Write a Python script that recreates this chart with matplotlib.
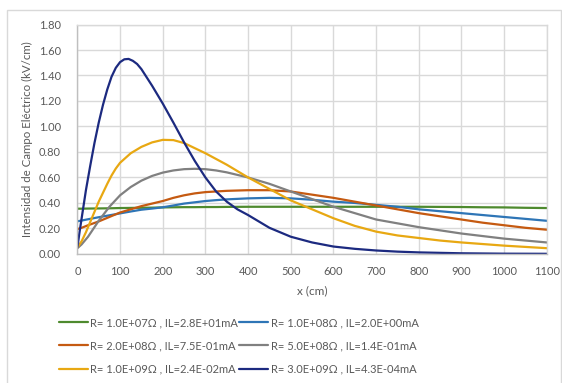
import matplotlib.pyplot as plt
from matplotlib.patches import Rectangle

plt.rcParams['font.family'] = ['Lato', 'DejaVu Sans']

# posiciones (cm) y campo (kV/cm)
x_navy = [0, 5, 10, 20, 30, 40, 50, 60, 70, 80, 90, 100, 110, 120, 130, 140, 150, 175, 200, 225, 250, 275, 300,
          325, 350, 375, 400, 450, 500, 550, 600, 650, 700, 750, 800, 900, 1000, 1100]
e_navy = [0.05, 0.17, 0.28, 0.50, 0.69, 0.87, 1.03, 1.17, 1.29, 1.39, 1.46, 1.505, 1.527, 1.53, 1.515, 1.49, 1.45,
          1.32, 1.18, 1.03, 0.875, 0.73, 0.60, 0.49, 0.41, 0.35, 0.305, 0.205, 0.135, 0.09, 0.058, 0.04, 0.027,
          0.018, 0.012, 0.005, 0.002, 0.001]

x_yellow = [0, 10, 20, 30, 40, 50, 60, 70, 80, 90, 100, 125, 150, 175, 200, 225, 250, 275, 300, 350, 400, 450, 500,
            550, 600, 650, 700, 750, 800, 850, 900, 1000, 1100]
e_yellow = [0.05, 0.10, 0.17, 0.25, 0.33, 0.41, 0.48, 0.55, 0.615, 0.67, 0.715, 0.79, 0.84, 0.875, 0.895, 0.893,
            0.87, 0.83, 0.79, 0.70, 0.60, 0.51, 0.42, 0.35, 0.28, 0.22, 0.175, 0.145, 0.125, 0.105, 0.09, 0.065,
            0.045]

x_std = [0, 10, 25, 50, 75, 100, 125, 150, 175, 200, 225, 250, 275, 300, 325, 350, 400, 450, 500, 550, 600, 650, 700,
         750, 800, 850, 900, 950, 1000, 1050, 1100]
e_green = [0.355, 0.355, 0.356, 0.357, 0.358, 0.36, 0.361, 0.362, 0.363, 0.365, 0.366, 0.367, 0.367, 0.368, 0.368,
           0.369, 0.37, 0.37, 0.37, 0.37, 0.37, 0.37, 0.37, 0.37, 0.37, 0.369, 0.368, 0.366, 0.365, 0.362, 0.36]
e_blue = [0.256, 0.262, 0.272, 0.288, 0.303, 0.318, 0.333, 0.347, 0.356, 0.366, 0.38, 0.395, 0.405, 0.415, 0.422,
          0.428, 0.436, 0.44, 0.436, 0.425, 0.41, 0.40, 0.385, 0.37, 0.35, 0.335, 0.32, 0.305, 0.29, 0.275, 0.26]
e_orange = [0.195, 0.205, 0.225, 0.255, 0.29, 0.325, 0.35, 0.375, 0.395, 0.415, 0.44, 0.46, 0.475, 0.485, 0.49,
            0.495, 0.50, 0.50, 0.49, 0.465, 0.44, 0.41, 0.38, 0.35, 0.32, 0.295, 0.27, 0.245, 0.225, 0.205, 0.19]
e_gray = [0.045, 0.075, 0.135, 0.26, 0.37, 0.46, 0.525, 0.575, 0.612, 0.638, 0.655, 0.665, 0.668, 0.665, 0.655, 0.64,
          0.60, 0.55, 0.49, 0.43, 0.37, 0.32, 0.27, 0.24, 0.21, 0.185, 0.16, 0.14, 0.12, 0.105, 0.09]

labels = ["R= 1.0E+07Ω , IL=2.8E+01mA", "R= 1.0E+08Ω , IL=2.0E+00mA",
          "R= 2.0E+08Ω , IL=7.5E-01mA", "R= 5.0E+08Ω , IL=1.4E-01mA",
          "R= 1.0E+09Ω , IL=2.4E-02mA", "R= 3.0E+09Ω , IL=4.3E-04mA"]

fig = plt.figure(figsize=(5.62, 3.83), dpi=100)
ax = fig.add_axes([0.1377, 0.337, 0.8353, 0.599])

grid_c = '#d9d9d9'
txt_c = '#595959'
kw = dict(lw=1.6, solid_joinstyle='round', solid_capstyle='round')

lines = []
lines += ax.plot(x_std, e_green, color='#4e8a2e', label=labels[0], **kw)
lines += ax.plot(x_std, e_blue, color='#2e75b6', label=labels[1], **kw)
lines += ax.plot(x_std, e_orange, color='#c55a11', label=labels[2], **kw)
lines += ax.plot(x_std, e_gray, color='#808080', label=labels[3], **kw)
lines += ax.plot(x_yellow, e_yellow, color='#e8a812', label=labels[4], **kw)
lines += ax.plot(x_navy, e_navy, color='#1c2a80', label=labels[5], **kw)

ax.set_xlim(0, 1100)
ax.set_ylim(0, 1.8)
ax.set_xticks(range(0, 1101, 100))
ax.set_yticks([i * 0.2 for i in range(10)])
ax.set_yticklabels([f"{i * 0.2:.2f}" for i in range(10)])
ax.grid(True, color=grid_c, lw=1)
ax.set_axisbelow(True)
for s in ax.spines.values():
    s.set_color(grid_c)
    s.set_linewidth(1)
ax.spines['left'].set_color('#bfbfbf')
ax.spines['bottom'].set_color('#bfbfbf')
ax.tick_params(axis='y', length=0, labelsize=8, colors=txt_c, pad=12)
ax.tick_params(axis='x', length=0, labelsize=8, colors=txt_c, pad=9)

ax.set_xlabel("x (cm)", fontsize=8.5, color=txt_c, labelpad=6)
ax.set_ylabel("Intensidad de Campo Eléctrico (kV/cm)", fontsize=8.3, color=txt_c, labelpad=4)

# orden por filas en la leyenda de dos columnas
order = [0, 2, 4, 1, 3, 5]
leg = fig.legend([lines[i] for i in order], [labels[i] for i in order],
                 loc='center', bbox_to_anchor=(0.425, 0.097), ncol=2, frameon=False,
                 fontsize=8, handlelength=2.6, handletextpad=0.2, columnspacing=0.1,
                 labelspacing=1.1)
for t in leg.get_texts():
    t.set_color(txt_c)

fig.patches.append(Rectangle((7 / 562, -0.01), 554 / 562, 1 - 10 / 383 + 0.01,
                             transform=fig.transFigure, fill=False, edgecolor=grid_c, lw=1))

fig.savefig("out.png", dpi=100)
